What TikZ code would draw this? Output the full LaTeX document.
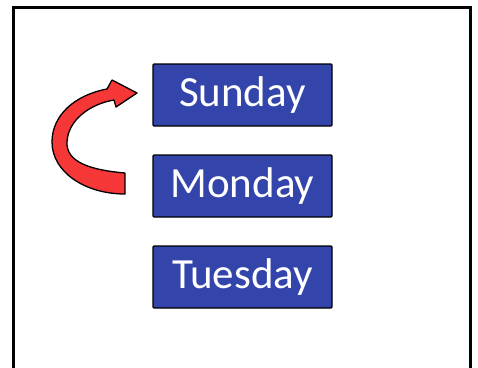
\documentclass[tikz,border=0pt]{standalone}
\usepackage{fontspec}
\setmainfont{Carlito}
\usepackage{tikz}
\usetikzlibrary{positioning}
\definecolor{dayblue}{RGB}{51,68,170}
\definecolor{turnred}{RGB}{245,55,55}

\begin{document}
\begin{tikzpicture}[x=1pt,y=-1pt,node distance=29pt,
  daybox/.style={draw=black,line width=1.3pt,rounded corners=1pt,fill=dayblue,text=white,
    minimum width=179pt,minimum height=62pt,outer sep=0pt,font=\fontsize{43}{50}\selectfont}]
\useasboundingbox (0,0) rectangle (478,367);
% frame, open at the bottom
\draw[line width=3pt] (13,372) -- (13,7.5) -- (470,7.5) -- (470,372);
% days
\node[daybox] (sun) at (242.5,95) {Sunday};
\node[daybox,below=of sun] (mon) {Monday};
\node[daybox,below=of mon] (tue) {Tuesday};
% curved block arrow from Monday back up to Sunday
\draw[line width=1.3pt,line join=round,fill=turnred]
  (125,173) .. controls (90,170) and (66,162) .. (67,142)
  .. controls (68,120) and (90,104) .. (114,100)
  -- (116,107) -- (137,93) -- (112,80) -- (107,89)
  .. controls (75,95) and (52,115) .. (52,142)
  .. controls (52,172) and (85,194) .. (125,194) -- cycle;
\end{tikzpicture}
\end{document}
